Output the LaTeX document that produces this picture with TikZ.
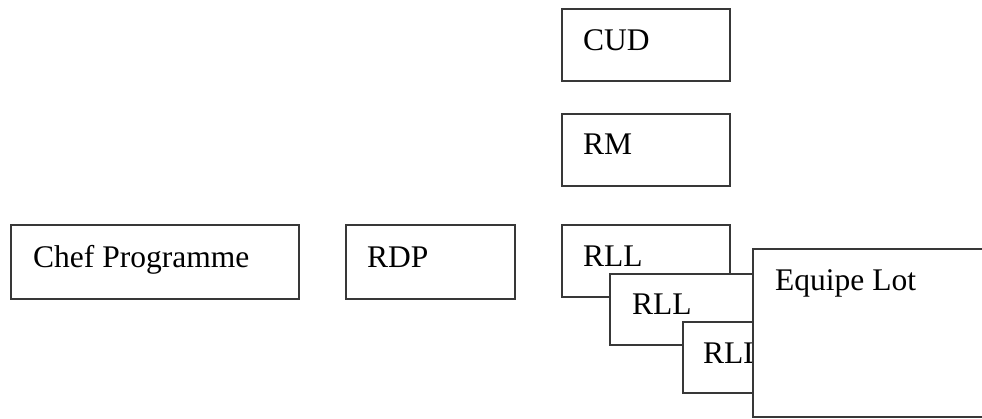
\documentclass[tikz,border=0pt]{standalone}
\usepackage{fontspec}
\setmainfont{Liberation Serif}
\begin{document}
\begin{tikzpicture}[x=1pt,y=-1pt,
  edge/.style={draw=black!78,line width=1.6pt},
  box/.style={edge,fill=white,rectangle,anchor=north west,inner sep=0pt,outer sep=0pt,minimum height=72pt},
  lbl/.style={anchor=base west,inner sep=0pt,font=\fontsize{31.5}{36}\selectfont}]
\useasboundingbox (0,0) rectangle (982,419);
\fill[white] (0,0) rectangle (982,419);
\clip (0,0) rectangle (982,419);
% vertical column
\node[box,minimum width=168pt] (cud) at (562,9) {};
\node[lbl] (cudt) at ([xshift=21pt,yshift=-42pt]cud.north west) {CUD};
\node[box,minimum width=168pt] (rm) at (562,114) {};
\node[lbl] (rmt) at ([xshift=21pt,yshift=-41pt]rm.north west) {RM};
% left row
\node[box,minimum width=288pt,minimum height=74pt] (chef) at (11,225) {};
\node[lbl] (cheft) at ([xshift=22pt,yshift=-43pt]chef.north west) {Chef Programme};
\node[box,minimum width=169pt,minimum height=74pt] (rdp) at (346,225) {};
\node[lbl] (rdpt) at ([xshift=21pt,yshift=-43pt]rdp.north west) {RDP};
% stacked RLL
\node[box,minimum width=168pt] (rll1) at (562,225) {};
\node[lbl] (rll1t) at ([xshift=21pt,yshift=-42pt]rll1.north west) {RLL};
\node[box,minimum width=168pt,minimum height=71pt] (rll2) at (610,274) {};
\node[lbl] (rll2t) at ([xshift=22pt,yshift=-41pt]rll2.north west) {RLL};
\node[box,minimum width=168pt,minimum height=71pt] (rll3) at (683,322) {};
\node[lbl] (rll3t) at ([xshift=20pt,yshift=-41pt]rll3.north west) {RLL};
% equipe lot (its right side lies beyond the picture)
\node[fill=white,rectangle,anchor=north west,inner sep=0pt,outer sep=0pt,minimum width=260pt,minimum height=168pt] (eq) at (753,249) {};
\coordinate (eqtr) at (1000,249);
\coordinate (eqbr) at (1000,417);
\draw[edge] (eqtr) -- (eq.north west) -- (eq.south west) -- (eqbr);
\node[lbl] (eqt) at ([xshift=22pt,yshift=-42pt]eq.north west) {Equipe Lot};
\end{tikzpicture}
\end{document}
